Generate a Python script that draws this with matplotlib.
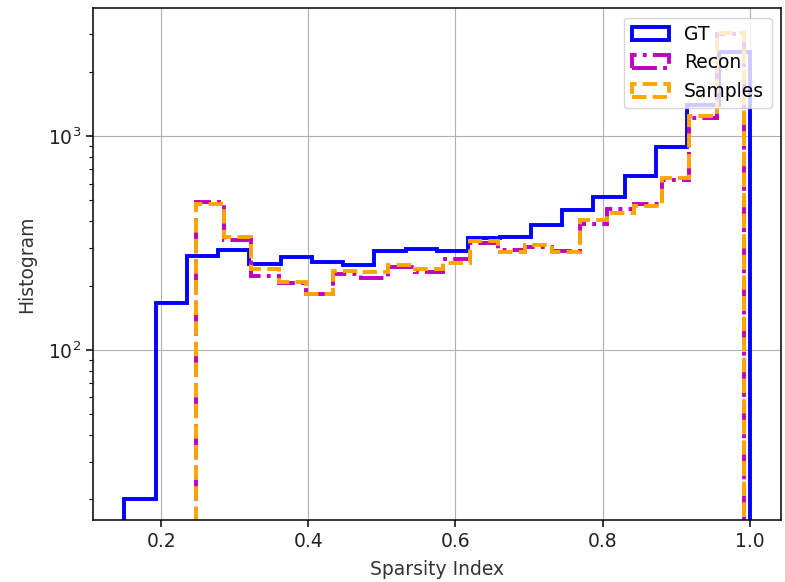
import numpy as np
import matplotlib
matplotlib.use('Agg')
import matplotlib.pyplot as plt

# Per-bin counts of the sparsity index (20 bins each)
gt_range = (0.15, 1.0)
gt_counts = [20, 166, 274, 293, 253, 271, 258, 249, 289, 295,
             290, 332, 338, 386, 451, 517, 650, 885, 1397, 2478]

gen_range = (0.248, 0.992)
recon_counts = [490, 326, 222, 205, 182, 226, 218, 245, 231, 265,
                315, 293, 302, 290, 390, 454, 479, 622, 1210, 2990]
samples_counts = [482, 336, 238, 207, 182, 234, 232, 250, 240, 255,
                  323, 287, 309, 288, 407, 435, 470, 638, 1241, 3043]

n_bins = 20
gt_edges = np.linspace(gt_range[0], gt_range[1], n_bins + 1)
gen_edges = np.linspace(gen_range[0], gen_range[1], n_bins + 1)

fs = 13.5
lw = 2.8

fig = plt.figure(figsize=(7.85, 5.82), dpi=100)
ax = fig.add_axes([0.1185, 0.1065, 0.8765, 0.8795])

ax.hist(gt_edges[:-1], bins=gt_edges, weights=gt_counts, histtype='step',
        color='blue', linewidth=lw, label='GT', log=True)
ax.hist(gen_edges[:-1], bins=gen_edges, weights=recon_counts, histtype='step',
        color='m', linestyle='-.', linewidth=lw, label='Recon', log=True)
ax.hist(gen_edges[:-1], bins=gen_edges, weights=samples_counts, histtype='step',
        color='orange', linestyle='--', linewidth=lw, label='Samples', log=True)

ax.set_xlim(0.1075, 1.0425)
ax.set_ylim(16, 3970)
ax.grid(True)
ax.set_xlabel('Sparsity Index', fontsize=fs, color='#333333', labelpad=7)
ax.set_ylabel('Histogram', fontsize=fs, color='#333333', labelpad=9)
ax.tick_params(labelsize=fs, length=4.8, width=1.1, labelcolor='#222222')
ax.tick_params(which='minor', length=2.8, width=0.8)
for s in ax.spines.values():
    s.set_linewidth(1.1)
ax.legend(loc='upper right', fontsize=fs, borderaxespad=0.5)

fig.savefig('out.png', dpi=100)
